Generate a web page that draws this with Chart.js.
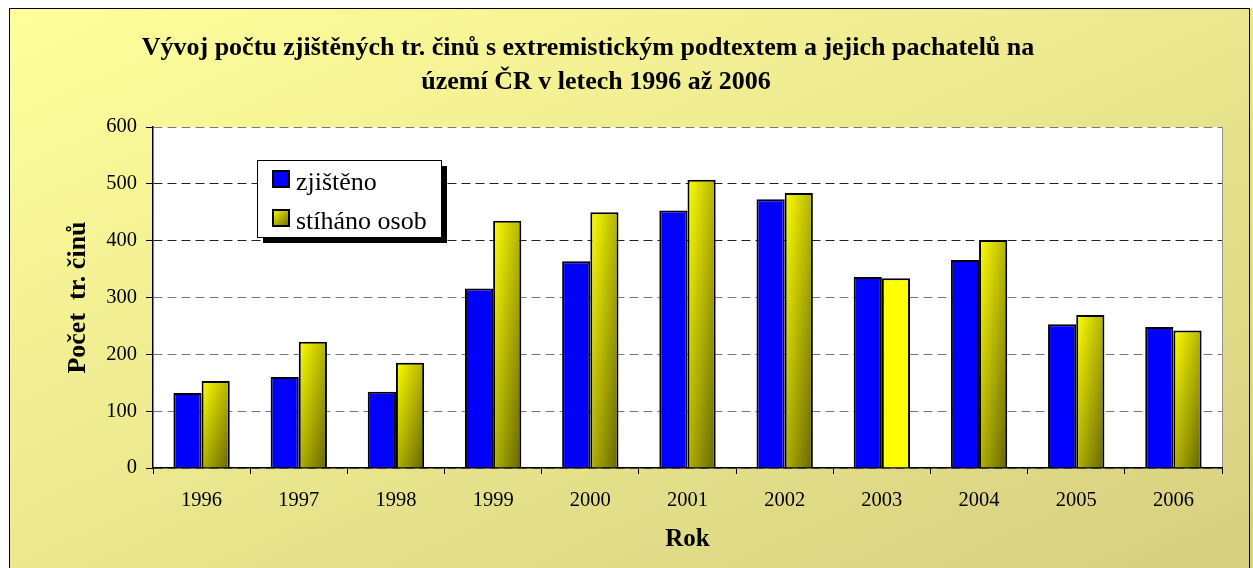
<!DOCTYPE html>
<html>
<head>
<meta charset="utf-8">
<script src="https://cdn.jsdelivr.net/npm/chart.js@4"></script>
<style>
  html, body { margin: 0; padding: 0; background: #fff; }
  canvas { display: block; }
</style>
</head>
<body>
<canvas id="chart" width="1253" height="568"></canvas>
<script>
// Data
const years = ['1996', '1997', '1998', '1999', '2000', '2001', '2002', '2003', '2004', '2005', '2006'];
const zjisteno = [132, 160, 134, 316, 364, 453, 473, 336, 366, 253, 248];
const stihano = [153, 222, 185, 435, 450, 507, 484, 334, 401, 269, 242];
const seriesNames = ['zjištěno', 'stíháno osob'];
const titleLines = [
    'Vývoj počtu zjištěných tr. činů s extremistickým podtextem a jejich pachatelů na',
    'území ČR v letech 1996 až 2006'
];

const serif = "'Liberation Serif', 'Times New Roman', serif";
const plainYellowIdx = 7; // the 2003 bar has a flat fill in the original

// Excel-like diagonal fill: colour follows (u + v) / 2 inside the box
function diagGradient(ctx, x, y, w, h, c0, c1) {
    const vx = 1 / (2 * w), vy = 1 / (2 * h);
    const len2 = vx * vx + vy * vy;
    const g = ctx.createLinearGradient(x, y, x + vx / len2, y + vy / len2);
    g.addColorStop(0, c0);
    g.addColorStop(1, c1);
    return g;
}

const decor = {
    id: 'decor',
    beforeDraw(chart) {
        const { ctx, chartArea: a } = chart;
        ctx.save();
        ctx.fillStyle = '#fff';
        ctx.fillRect(0, 0, chart.width, chart.height);
        // yellow page background with frame
        ctx.fillStyle = diagGradient(ctx, 9, 8, 1244, 560, '#FFFF9C', '#D6CF80');
        ctx.fillRect(9, 8, 1244, 560);
        ctx.strokeStyle = '#000';
        ctx.lineWidth = 1;
        ctx.strokeRect(9.5, 8.5, 1240, 570);
        // plot area
        ctx.fillStyle = '#fff';
        ctx.fillRect(a.left, a.top, a.right - a.left, a.bottom - a.top);
        ctx.strokeStyle = '#909090';
        ctx.beginPath();
        ctx.moveTo(a.right + 0.5, a.top);
        ctx.lineTo(a.right + 0.5, a.bottom);
        ctx.stroke();
        // title
        ctx.fillStyle = '#000';
        ctx.font = 'bold 26px ' + serif;
        ctx.textAlign = 'center';
        ctx.textBaseline = 'middle';
        ctx.fillText(titleLines[0], 588, 48);
        ctx.fillText(titleLines[1], 596, 82);
        ctx.restore();
    },
    beforeDatasetsDraw(chart) {
        const meta = chart.getDatasetMeta(1);
        meta.data.forEach((el, i) => {
            if (i === plainYellowIdx) return;
            const left = el.x - el.width / 2;
            el.options.backgroundColor = diagGradient(chart.ctx, left, el.y, el.width, el.base - el.y, '#FFFF00', '#666600');
        });
    },
    afterDatasetsDraw(chart) {
        const ctx = chart.ctx;
        const bx = 257, by = 160, bw = 184, bh = 77;
        ctx.save();
        ctx.fillStyle = '#000';
        ctx.fillRect(bx + 6, by + 6, bw, bh);
        ctx.fillStyle = '#fff';
        ctx.fillRect(bx, by, bw, bh);
        ctx.strokeStyle = '#000';
        ctx.lineWidth = 1;
        ctx.strokeRect(bx + 0.5, by + 0.5, bw, bh);
        ctx.font = '26px ' + serif;
        ctx.textBaseline = 'alphabetic';
        ctx.textAlign = 'left';
        chart.data.datasets.forEach((ds, i) => {
            const sy = 170 + i * 39;
            ctx.fillStyle = i === 0 ? '#0000FF' : diagGradient(ctx, 272, sy, 18, 18, '#FFFF00', '#666600');
            ctx.fillRect(272, sy, 18, 18);
            ctx.lineWidth = 2;
            ctx.strokeRect(273, sy + 1, 16, 16);
            ctx.fillStyle = '#000';
            ctx.fillText(ds.label, 296, sy + 20);
        });
        ctx.restore();
    }
};

new Chart(document.getElementById('chart'), {
    type: 'bar',
    data: {
        labels: years,
        datasets: [
            { label: seriesNames[0], data: zjisteno, backgroundColor: '#0000FF' },
            // scriptable colour so each bar keeps its own options object
            { label: seriesNames[1], data: stihano, backgroundColor: () => '#FFFF00' }
        ]
    },
    options: {
        responsive: false,
        animation: false,
        events: [],
        layout: { padding: { left: 9, top: 127, right: 31, bottom: 0 } },
        datasets: {
            bar: {
                borderColor: '#000',
                borderWidth: 2,
                borderSkipped: 'start',
                categoryPercentage: 0.58,
                barPercentage: 1
            }
        },
        plugins: {
            legend: { display: false },
            title: { display: false },
            tooltip: { enabled: false }
        },
        scales: {
            x: {
                afterFit: s => { s.height = 100; },
                grid: { drawOnChartArea: false, tickLength: 6, color: '#000' },
                border: { color: '#000', width: 1.5 },
                ticks: { color: '#000', font: { family: serif, size: 20.5 }, padding: 14, maxRotation: 0 },
                title: {
                    display: true, text: 'Rok', color: '#000',
                    font: { family: serif, size: 25, weight: 'bold' },
                    padding: { top: 0, bottom: 13 }
                }
            },
            y: {
                min: 0, max: 600,
                afterFit: s => { s.width = 144; },
                grid: {
                    color: c => (c.tick && (c.tick.value === 400 || c.tick.value === 500)) ? '#222' : '#7a7a7a',
                    tickColor: '#000',
                    tickLength: 7,
                    lineWidth: 1
                },
                border: { color: '#000', width: 1.5, dash: [9, 5] },
                ticks: { stepSize: 100, color: '#000', font: { family: serif, size: 20.5 }, padding: 9 },
                title: {
                    display: true, text: 'Počet  tr. činů', color: '#000',
                    font: { family: serif, size: 26, weight: 'bold' },
                    padding: { top: 54, bottom: 0 }
                }
            }
        }
    },
    plugins: [decor]
});
</script>
</body>
</html>
